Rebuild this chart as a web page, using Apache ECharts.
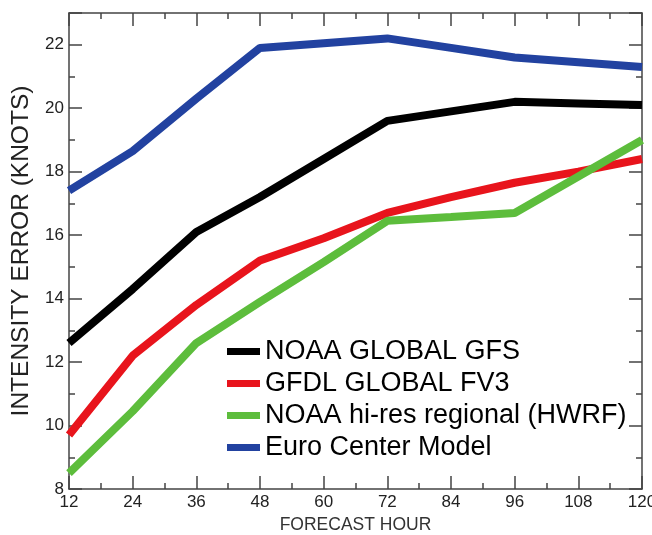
<!DOCTYPE html>
<html>
<head>
<meta charset="utf-8">
<script src="https://cdn.jsdelivr.net/npm/echarts@6/dist/echarts.min.js"></script>
<style>
html, body { margin: 0; padding: 0; background: #fff; }
#chart { width: 652px; height: 535px; }
</style>
</head>
<body>
<div id="chart"></div>
<script>
// forecast hours and intensity error per model (knots)
var hours = [12, 24, 36, 48, 60, 72, 84, 96, 108, 120];
var gfs  = [12.6, 14.3, 16.1, 17.2, 18.4, 19.6, 19.9, 20.2, 20.15, 20.1];
var fv3  = [9.7, 12.2, 13.8, 15.2, 15.9, 16.7, 17.2, 17.65, 18.0, 18.4];
var hwrf = [8.5, 10.45, 12.6, 13.9, 15.15, 16.45, 16.57, 16.7, 17.85, 19.0];
var euro = [17.4, 18.65, 20.3, 21.9, 22.05, 22.2, 21.9, 21.6, 21.45, 21.3];
var names = ['NOAA GLOBAL GFS', 'GFDL GLOBAL FV3', 'NOAA hi-res regional (HWRF)', 'Euro Center Model'];
var colors = ['#000000', '#e8141c', '#5dbd3c', '#2242a0'];

var chart = echarts.init(document.getElementById('chart'));

function pairs(vals) {
    return hours.map(function (h, i) { return [h, vals[i]]; });
}

var axisCol = '#444';
var font = 'Liberation Sans, Arial, sans-serif';

var option = {
    animation: false,
    textStyle: { fontFamily: font },
    grid: { left: 69, right: 10, top: 13, bottom: 46, outerBoundsMode: 'none' },
    legend: {
        orient: 'vertical',
        left: 222,
        top: 333,
        itemWidth: 33,
        itemHeight: 7,
        itemGap: 5,
        icon: 'rect',
        textStyle: { fontSize: 27, color: '#000', fontFamily: font },
        data: names
    },
    xAxis: [{
        type: 'value',
        min: 12,
        max: 120,
        interval: 12,
        name: 'FORECAST HOUR',
        nameLocation: 'middle',
        nameGap: 27,
        nameTextStyle: { fontSize: 17.5, color: '#333' },
        axisLine: { lineStyle: { color: axisCol, width: 1.5 } },
        axisTick: { inside: true, length: 13, lineStyle: { color: axisCol, width: 1.5 } },
        minorTick: { show: true, splitNumber: 2, length: 6, lineStyle: { color: axisCol, width: 1.5 } },
        axisLabel: { fontSize: 17, color: '#222', margin: 5 },
        splitLine: { show: false }
    }, {
        type: 'value',
        position: 'top',
        min: 12,
        max: 120,
        interval: 12,
        axisLine: { show: true, lineStyle: { color: axisCol, width: 1.5 } },
        axisTick: { inside: true, length: 13, lineStyle: { color: axisCol, width: 1.5 } },
        minorTick: { show: true, splitNumber: 2, length: 6, lineStyle: { color: axisCol, width: 1.5 } },
        axisLabel: { show: false },
        splitLine: { show: false }
    }],
    yAxis: [{
        type: 'value',
        min: 8,
        max: 23,
        interval: 2,
        name: 'INTENSITY ERROR (KNOTS)',
        nameLocation: 'middle',
        nameGap: 34,
        nameTextStyle: { fontSize: 24.5, color: '#222' },
        axisLine: { show: true, lineStyle: { color: axisCol, width: 1.5 } },
        axisTick: { inside: true, length: 13, lineStyle: { color: axisCol, width: 1.5 } },
        minorTick: { show: true, splitNumber: 2, length: 6, lineStyle: { color: axisCol, width: 1.5 } },
        axisLabel: { fontSize: 17, color: '#222', margin: 5, showMaxLabel: false },
        splitLine: { show: false }
    }, {
        type: 'value',
        position: 'right',
        min: 8,
        max: 23,
        interval: 2,
        axisLine: { show: true, lineStyle: { color: axisCol, width: 1.5 } },
        axisTick: { inside: true, length: 13, lineStyle: { color: axisCol, width: 1.5 } },
        minorTick: { show: true, splitNumber: 2, length: 6, lineStyle: { color: axisCol, width: 1.5 } },
        axisLabel: { show: false },
        splitLine: { show: false }
    }],
    series: [gfs, fv3, hwrf, euro].map(function (vals, i) {
        return {
            name: names[i],
            type: 'line',
            data: pairs(vals),
            showSymbol: false,
            symbol: 'none',
            color: colors[i],
            lineStyle: { width: 8, color: colors[i] },
            z: 2 + i
        };
    })
};

chart.setOption(option);
</script>
</body>
</html>
